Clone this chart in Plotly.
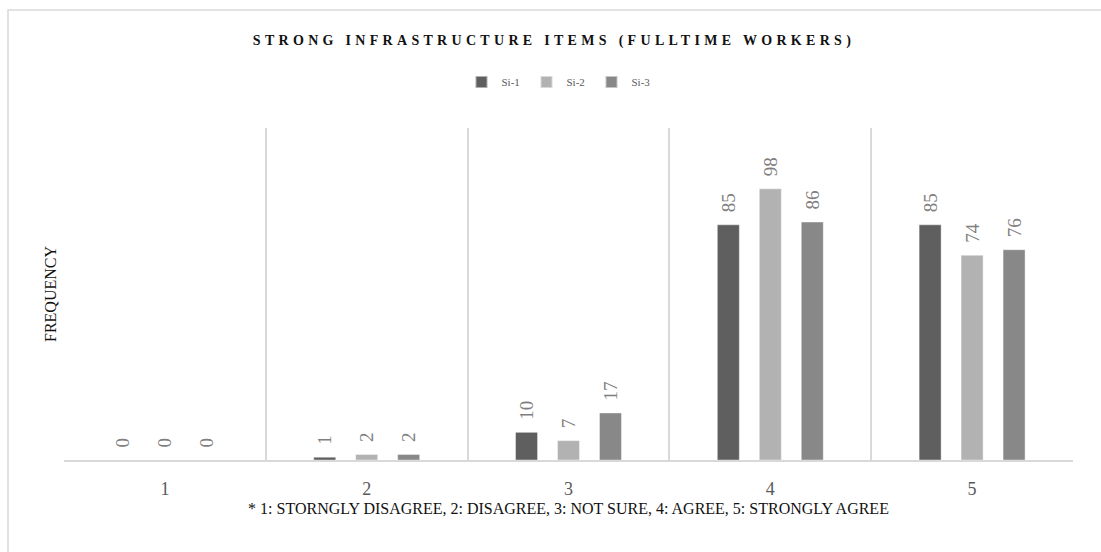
import plotly.graph_objects as go

categories = [1, 2, 3, 4, 5]
series_names = ["Si-1", "Si-2", "Si-3"]
si1 = [0, 1, 10, 85, 85]
si2 = [0, 2, 7, 98, 74]
si3 = [0, 2, 17, 86, 76]
colors = ["#5f5f5f", "#b2b2b2", "#888888"]
title_text = "STRONG INFRASTRUCTURE ITEMS (FULLTIME WORKERS)"
x_title = "* 1: STORNGLY DISAGREE, 2: DISAGREE, 3: NOT SURE, 4: AGREE, 5: STRONGLY AGREE"
y_title = "FREQUENCY"

FONT = "Liberation Serif"
W, H = 1101, 552
L, R, T, B = 64, 28, 128, 92

fig = go.Figure()
for name, vals, col in zip(series_names, [si1, si2, si3], colors):
    fig.add_trace(go.Bar(
        x=categories, y=vals, name=name,
        marker=dict(color=col, line=dict(color="rgba(255,255,255,0.5)", width=0.8)),
        text=vals, texttemplate="\u00a0\u00a0%{text}", textposition="outside",
        textangle=-90, cliponaxis=False, constraintext="none",
        textfont=dict(family=FONT, size=19, color="#7f7f7f"),
    ))

fig.update_layout(
    width=W, height=H,
    margin=dict(l=L, r=R, t=T, b=B),
    paper_bgcolor="white", plot_bgcolor="white",
    barmode="group", bargap=0.376, bargroupgap=0.476,
    font=dict(family=FONT, color="#595959"),
    title=dict(
        text='<span style="letter-spacing:4.3px">' + "<b>" + title_text + "</b></span>",
        x=554 / W, xanchor="center", y=1 - 40 / H, yanchor="middle",
        yref="container", xref="container",
        font=dict(family=FONT, size=14, color="#111111"),
    ),
    legend=dict(
        orientation="h", x=559 / W, xanchor="center", y=1 - 82 / H, yanchor="middle",
        yref="container", xref="container",
        font=dict(family=FONT, size=11, color="#595959"),
        itemwidth=30, itemsizing="constant", traceorder="normal",
        entrywidth=20, entrywidthmode="pixels",
    ),
    showlegend=True,
    uniformtext=dict(mode=False),
    xaxis=dict(
        type="linear", range=[0.5, 5.5], tickvals=categories,
        ticktext=[str(c) for c in categories],
        showgrid=False, zeroline=False,
        showline=True, linecolor="#d9d9d9", linewidth=1.5,
        ticks="", ticklabelstandoff=12,
        tickfont=dict(family=FONT, size=18, color="#595959"),
        minor=dict(tick0=0.5, dtick=1, showgrid=True, gridcolor="#d9d9d9", gridwidth=1.5, ticks=""),
        title=dict(text=x_title, standoff=4, font=dict(family=FONT, size=16, color="#111111")),
        fixedrange=True,
    ),
    yaxis=dict(
        range=[0, 120], showgrid=False, zeroline=False, showticklabels=False,
        ticks="", showline=False,
        title=dict(text=y_title, standoff=2, font=dict(family=FONT, size=16, color="#111111")),
        fixedrange=True,
    ),
    shapes=[dict(
        type="rect", xref="paper", yref="paper",
        x0=(8 - L) / (W - L - R), x1=(W + 20 - L) / (W - L - R),
        y0=-(H + 20 - (H - B)) / (H - T - B), y1=(H - 10 - B) / (H - T - B),
        line=dict(color="#d9d9d9", width=1.5), fillcolor="rgba(0,0,0,0)", layer="below",
    )],
)

fig.write_html("out.html")
